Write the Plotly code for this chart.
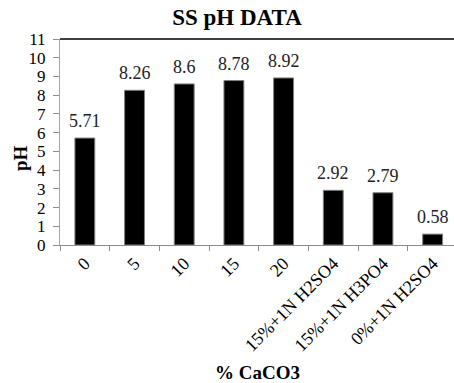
import plotly.graph_objects as go

categories = ["0", "5", "10", "15", "20",
              "15%+1N H2SO4", "15%+1N H3PO4", "0%+1N H2SO4"]
ph_values = [5.71, 8.26, 8.6, 8.78, 8.92, 2.92, 2.79, 0.58]
value_labels = ["5.71", "8.26", "8.6", "8.78", "8.92", "2.92", "2.79", "0.58"]

serif = "Liberation Serif, Times New Roman, serif"
positions = list(range(len(categories)))

fig = go.Figure()
fig.add_trace(go.Bar(
    x=positions,
    y=ph_values,
    width=0.4,
    marker=dict(color="black", line=dict(color="#7f7f7f", width=1)),
    hoverinfo="skip",
))

# value labels above each bar
for pos, val, lab in zip(positions, ph_values, value_labels):
    fig.add_annotation(
        x=pos, y=val, text=lab, showarrow=False,
        xref="x", yref="y", yanchor="middle", yshift=17,
        font=dict(family=serif, size=18, color="#222222"),
    )

# dark top border of the plot area
fig.add_shape(type="line", xref="paper", yref="paper",
              x0=0, x1=1, y0=1, y1=1,
              line=dict(color="#404040", width=2))

# axis titles
fig.add_annotation(text="<b>% CaCO3</b>", xref="paper", yref="paper",
                   x=0.5, y=(245 - 372) / 206, xanchor="center", yanchor="middle",
                   showarrow=False,
                   font=dict(family=serif, size=19, color="black"))
fig.add_annotation(text="<b>pH</b>", xref="paper", yref="paper",
                   x=-(60 - 20) / 394, y=(245 - 158) / 206,
                   xanchor="center", yanchor="middle", textangle=-90,
                   showarrow=False,
                   font=dict(family=serif, size=19, color="black"))

fig.update_layout(
    width=454, height=383,
    margin=dict(l=60, r=0, t=39, b=138),
    paper_bgcolor="white", plot_bgcolor="white",
    showlegend=False,
    title=dict(text="<b>SS pH DATA</b>", x=0.522, xanchor="center",
               y=1 - 17 / 383, yanchor="middle", yref="container",
               font=dict(family=serif, size=23, color="black")),
    font=dict(family=serif, color="black"),
)

fig.update_xaxes(
    range=[-0.5, 7.43],
    tickmode="array", tickvals=positions, ticktext=categories,
    ticks="", showgrid=False,
    showline=True, linecolor="#8c8c8c", linewidth=1,
    tickangle=-45,
    tickfont=dict(family=serif, size=18, color="black"),
    minor=dict(tickmode="array", tickvals=[p - 0.5 for p in positions] + [7.5],
               ticks="outside", ticklen=5, tickcolor="#8c8c8c", showgrid=False),
    zeroline=False,
)

fig.update_yaxes(
    range=[0, 11], dtick=1,
    ticks="outside", ticklen=6, tickcolor="#8c8c8c",
    ticklabelstandoff=4,
    showline=True, linecolor="#a6a6a6", linewidth=1,
    showgrid=False, zeroline=False,
    tickfont=dict(family=serif, size=17, color="black"),
)

fig.write_html("out.html")
